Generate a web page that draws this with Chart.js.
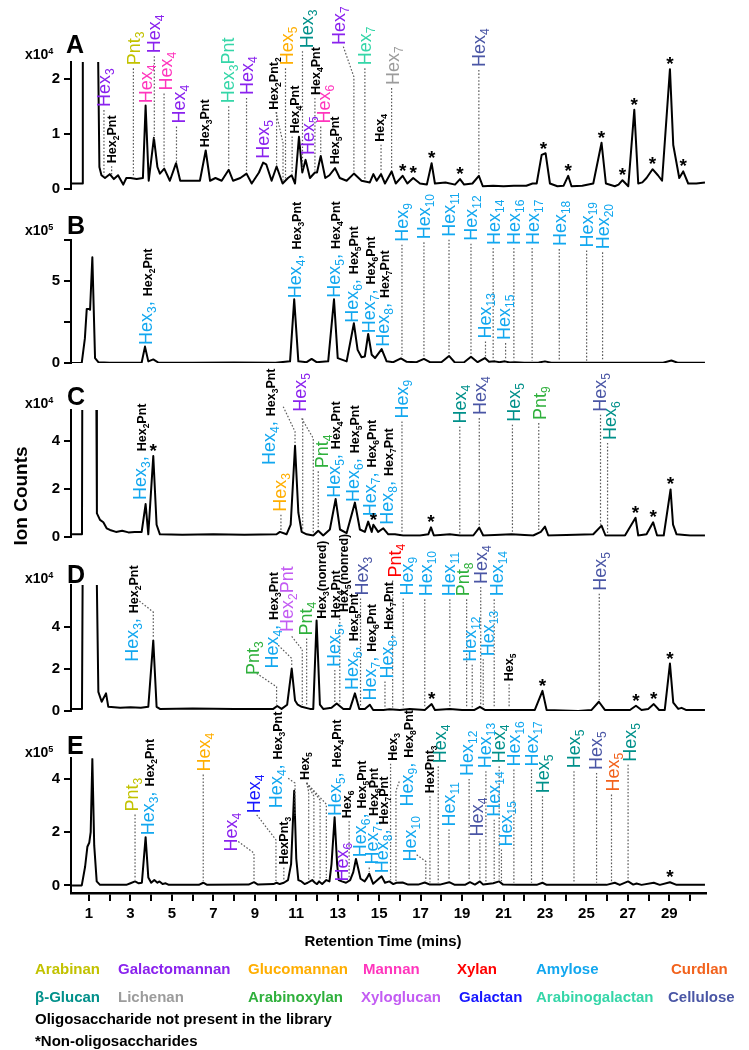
<!DOCTYPE html>
<html><head><meta charset="utf-8">
<script src="https://cdn.jsdelivr.net/npm/chart.js@4.4.1/dist/chart.umd.min.js"></script>
<style>
html,body{margin:0;padding:0;background:#fff;}
#wrap{position:relative;width:749px;height:1050px;overflow:hidden;background:#fff;font-family:"Liberation Sans",Arial,sans-serif;}
canvas{position:absolute;left:0;top:0;}
.t{position:absolute;line-height:1;font-weight:bold;white-space:nowrap;transform:translateY(-50%);color:#000;}
.t sup{font-size:0.65em;vertical-align:0.55em;line-height:0;}
</style></head>
<body><div id="wrap">
<canvas id="pA" width="749" height="1050"></canvas>
<canvas id="pB" width="749" height="1050"></canvas>
<canvas id="pC" width="749" height="1050"></canvas>
<canvas id="pD" width="749" height="1050"></canvas>
<canvas id="pE" width="749" height="1050"></canvas>
</div>
<script>
// ---------------- DATA ----------------
const X_TICKS = [1,2,3,4,5,6,7,8,9,10,11,12,13,14,15,16,17,18,19,20,21,22,23,24,25,26,27,28,29,30];
const X_TICK_LABELS = ['1','','3','','5','','7','','9','','11','','13','','15','','17','','19','','21','','23','','25','','27','','29',''];
const PANEL_LETTERS = ['A','B','C','D','E'];
const PANEL_EXPONENTS = ['4','5','4','4','5'];

// Panel A (x10^4)
const A_TIME = [0.16,0.69,0.70,1.36,1.50,1.60,1.77,2.00,2.20,2.40,2.65,2.80,3.00,3.30,3.60,3.73,3.88,4.13,4.30,4.42,4.63,4.90,5.20,5.40,5.80,6.35,6.63,6.84,7.10,7.40,7.74,7.95,8.30,8.60,8.85,9.20,9.40,9.55,9.81,10.05,10.34,10.60,10.78,10.94,11.13,11.29,11.45,11.66,11.90,12.00,12.18,12.40,12.60,12.87,13.10,13.43,13.78,14.15,14.55,14.72,14.88,15.09,15.28,15.60,15.80,16.13,16.36,16.64,16.97,17.30,17.53,17.69,18.20,18.66,18.90,19.10,19.50,19.81,20.00,20.50,21.00,21.50,22.10,22.40,22.60,22.84,23.03,23.24,23.60,23.90,24.12,24.28,24.80,25.33,25.73,25.94,26.37,26.55,26.74,27.02,27.31,27.50,27.70,27.90,28.19,28.45,28.65,29.03,29.19,29.48,29.67,29.91,30.30,30.72];
const A_ION  = [0.10,0.10,5,5,0.40,0.25,0.20,0.27,0.18,0.25,0.08,0.20,0.20,0.18,0.20,1.52,0.15,0.93,0.40,0.28,0.37,0.15,0.47,0.15,0.15,0.15,0.70,0.15,0.20,0.15,0.35,0.15,0.20,0.28,0.10,0.30,0.48,0.45,0.15,0.41,0.10,0.20,0.25,0.10,0.95,0.30,0.53,0.20,0.30,0.30,0.60,0.20,0.25,0.38,0.20,0.15,0.28,0.15,0.12,0.27,0.15,0.27,0.10,0.32,0.10,0.24,0.10,0.20,0.10,0.08,0.47,0.10,0.12,0.08,0.18,0.08,0.10,0.24,0.05,0.06,0.05,0.06,0.06,0.10,0.10,0.62,0.65,0.10,0.05,0.06,0.24,0.05,0.06,0.10,0.84,0.10,0.05,0.08,0.16,0.05,1.44,0.10,0.12,0.20,0.36,0.25,0.15,2.18,0.80,0.20,0.32,0.10,0.10,0.12];
const A_Y_TICKS = [0,1,2];
const A_Y_LABELS = ['0','1','2'];
const A_STARS = [16.13,16.64,17.53,18.9,22.93,24.12,25.73,26.74,27.31,28.19,29.03,29.67];
const A_PEAKS = [[1.72,'Hex{3}','gm'],[2.09,'Hex{2}Pnt','k'],[3.14,'Pnt{3}','ara'],[4.15,'Hex{4}','gm'],[3.73,'Hex{4}','man'],[4.62,'Hex{4}','man'],[5.22,'Hex{4}','gm'],[6.6,'Hex{3}Pnt','k'],[7.74,'Hex{3}Pnt','ag'],[8.6,'Hex{4}','gm'],[9.45,'Hex{5}','gm'],[10.36,'Hex{2}Pnt{2}','k'],[10.48,'Hex{5}','glc'],[10.8,'Hex{4}Pnt','k'],[11.3,'Hex{3}','bg'],[11.9,'Hex{4}Pnt','k'],[11.47,'Hex{5}','gm'],[12.18,'Hex{6}','man'],[12.87,'Hex{5}Pnt','k'],[13.78,'Hex{7}','gm'],[14.31,'Hex{7}','ag'],[15.09,'Hex{4}','k'],[15.6,'Hex{7}','lic'],[19.81,'Hex{4}','cel']];

// Panel B (x10^5)
const B_TIME = [0.16,0.65,0.80,0.89,1.01,1.05,1.16,1.29,1.45,2.00,3.00,3.54,3.70,3.86,4.10,4.34,6.00,8.00,10.00,10.70,10.90,11.10,11.50,11.74,11.98,12.54,12.82,13.00,13.43,13.78,13.96,14.15,14.31,14.47,14.64,14.80,15.12,15.36,15.68,16.05,16.33,16.80,17.16,17.45,18.00,18.37,18.65,19.10,19.43,19.75,20.10,20.30,20.58,20.80,21.07,21.30,21.55,22.00,22.70,23.00,23.30,25.00,28.70,29.10,29.40,30.72];
const B_ION  = [0,0.02,1.5,3.3,3.3,3.25,6.45,0.3,0.05,0.02,0.02,0.03,1.0,0.1,0.22,0.03,0.02,0.03,0.02,0.1,3.88,0.1,0.05,0.25,0.05,0.1,3.88,0.3,0.1,2.42,0.8,0.35,0.4,1.77,0.5,0.3,0.85,0.1,0.05,0.28,0.07,0.05,0.25,0.05,0.05,0.43,0.03,0.05,0.38,0.05,0.30,0.08,0.10,0.05,0.10,0.03,0.05,0.02,0.03,0.10,0.02,0.02,0.02,0.15,0.02,0.02];
const B_Y_TICKS = [0,2.5,5,7.5];
const B_Y_LABELS = ['0','','5',''];
const B_STARS = [];
const B_PEAKS = [[3.7,'Hex{3}, |Hex{2}Pnt','amy'],[10.9,'Hex{4}, |Hex{3}Pnt','amy'],[12.82,'Hex{5}, |Hex{4}Pnt','amy'],[13.78,'Hex{6}, |Hex{5}Pnt','amy'],[14.47,'Hex{7}, |Hex{6}Pnt','amy'],[15.12,'Hex{8}, |Hex{7}Pnt','amy'],[16.1,'Hex{9}','amy'],[17.16,'Hex{10}','amy'],[18.37,'Hex{11}','amy'],[19.43,'Hex{12}','amy'],[20.13,'Hex{13}','amy'],[20.5,'Hex{14}','amy'],[21.1,'Hex{15}','amy'],[21.5,'Hex{16}','amy'],[22.38,'Hex{17}','amy'],[23.69,'Hex{18}','amy'],[25.01,'Hex{19}','amy'],[25.78,'Hex{20}','amy']];

// Panel C (x10^4)
const C_TIME = [0.18,0.66,0.68,1.34,1.38,1.53,1.69,1.85,2.01,2.30,2.60,2.90,3.20,3.54,3.73,3.86,4.10,4.26,4.42,5.50,7.00,8.50,10.05,10.21,10.53,10.73,10.94,11.10,11.26,11.50,11.82,12.06,12.30,12.62,12.90,13.11,13.43,13.83,14.07,14.31,14.47,14.64,14.72,14.95,15.20,15.44,15.76,16.16,16.57,16.97,17.37,17.50,17.64,18.41,18.90,19.54,19.83,20.02,21.39,22.43,22.80,23.00,23.16,25.33,25.73,25.92,26.86,27.37,27.50,27.90,28.22,28.41,28.73,29.06,29.18,29.35,30.00,30.72];
const C_ION  = [0.1,0.1,8,8,0.97,0.7,0.6,0.35,0.28,0.2,0.25,0.18,0.2,0.2,1.36,0.1,3.36,0.5,0.1,0.08,0.1,0.08,0.1,0.2,0.1,0.5,3.79,1.0,0.2,0.1,0.05,0.25,0.05,0.3,1.57,0.3,0.15,1.42,0.3,0.2,0.63,0.2,0.5,0.2,0.35,0.1,0.1,0.05,0.05,0.05,0.1,0.39,0.05,0.1,0.05,0.05,0.38,0.05,0.1,0.05,0.2,0.42,0.05,0.1,0.46,0.05,0.05,0.79,0.05,0.1,0.6,0.05,0.05,1.97,0.5,0.1,0.05,0.05];
const C_Y_TICKS = [0,2,4];
const C_Y_LABELS = ['0','2','4'];
const C_STARS = [4.1,14.72,17.5,27.37,28.22,29.06];
const C_PEAKS = [[3.73,'Hex{3}, |Hex{2}Pnt','amy'],[10.26,'Hex{3}','glc'],[10.94,'Hex{4}, |Hex{3}Pnt','amy'],[11.82,'Hex{5}','gm'],[12.06,'Pnt{4}','axy'],[12.9,'Hex{5}, |Hex{4}Pnt','amy'],[13.83,'Hex{6}, |Hex{5}Pnt','amy'],[14.47,'Hex{7}, |Hex{6}Pnt','amy'],[15.2,'Hex{8}, |Hex{7}Pnt','amy'],[16.1,'Hex{9}','amy'],[18.89,'Hex{4}','bg'],[19.83,'Hex{4}','cel'],[21.43,'Hex{5}','bg'],[22.7,'Pnt{9}','axy'],[25.68,'Hex{5}','cel'],[26.02,'Hex{6}','bg']];

// Panel D (x10^4)
const D_TIME = [0.18,0.66,0.70,1.35,1.45,1.61,1.82,1.93,2.50,3.00,3.50,3.86,4.10,4.26,4.42,6.00,8.00,9.89,10.08,10.29,10.56,10.78,10.94,11.07,11.26,11.66,11.82,11.98,12.14,12.30,12.70,12.95,13.27,13.59,13.83,14.04,14.31,14.55,14.71,15.20,15.50,16.00,16.48,17.20,17.53,17.69,18.41,19.00,19.60,19.86,20.10,21.00,22.51,22.88,23.08,24.60,25.25,25.60,25.89,27.10,27.39,27.66,27.98,28.25,28.51,28.78,29.03,29.19,29.43,29.59,29.80,30.72];
const D_ION  = [0.1,0.1,8,8,0.91,0.44,0.84,0.2,0.15,0.18,0.15,0.2,3.36,0.2,0.1,0.12,0.1,0.1,0.24,0.1,0.3,2.02,0.5,0.3,0.2,0.1,0.1,4.31,0.3,0.1,0.15,0.36,0.1,0.1,0.84,0.1,0.1,0.3,0.05,0.05,0.08,0.05,0.1,0.05,0.33,0.05,0.1,0.05,0.05,0.2,0.05,0.05,0.05,0.96,0.05,0.0,0.05,0.44,0.05,0.05,0.25,0.05,0.1,0.33,0.05,0.05,2.26,0.4,0.1,0.15,0.05,0.05];
const D_Y_TICKS = [0,2,4];
const D_Y_LABELS = ['0','2','4'];
const D_STARS = [17.53,22.88,27.39,28.25,29.03];
const D_PEAKS = [[4.1,'Hex{3}, |Hex{2}Pnt','amy'],[10.05,'Pnt{3}','axy'],[10.78,'Hex{4}, |Hex{3}Pnt','amy'],[11.29,'Hex{2}Pnt','xg'],[11.5,'Pnt{4}','axy'],[11.98,'Hex{3}(nonred)','k'],[12.86,'Hex{5}, |Hex{4}Pnt','amy'],[13.1,'Hex{5}(nonred)','k'],[14.1,'Hex{3}','cel'],[13.83,'Hex{6}, |Hex{5}Pnt','amy'],[14.55,'Hex{7}, |Hex{6}Pnt','amy'],[15.28,'Hex{8}, |Hex{7}Pnt','amy'],[15.65,'Pnt{4}','xyl'],[16.16,'Hex{9}','amy'],[17.2,'Hex{10}','amy'],[18.41,'Hex{11}','amy'],[19.22,'Pnt{8}','axy'],[19.49,'Hex{12}','amy'],[19.9,'Hex{4}','cel'],[20.02,'Hex{13}','amy'],[20.55,'Hex{14}','amy'],[21.27,'Hex{5}','k'],[25.62,'Hex{5}','cel']];

// Panel E (x10^5)
const E_TIME = [0.18,0.65,0.81,0.92,1.01,1.08,1.16,1.25,1.37,1.53,2.80,3.00,3.22,3.40,3.55,3.73,3.86,4.00,4.15,4.30,4.40,4.55,4.70,4.85,6.30,6.51,6.70,8.70,8.96,9.15,9.90,10.05,10.20,10.40,10.60,10.75,10.90,11.00,11.10,11.25,11.40,11.55,11.77,11.90,12.00,12.10,12.25,12.45,12.60,12.70,12.85,12.97,13.05,13.20,13.40,13.60,13.75,13.88,14.00,14.10,14.30,14.43,14.52,14.71,15.12,15.28,15.49,15.68,15.84,16.13,16.40,16.88,17.20,17.45,17.93,18.38,18.65,19.14,19.38,19.62,19.86,20.02,20.50,20.79,20.98,21.63,22.60,22.88,23.08,25.97,26.37,26.61,27.01,27.26,27.42,27.66,28.25,28.54,29.03,29.35,30.72];
const E_ION  = [0,0,0.7,1.45,1.6,2.0,4.75,1.5,0.15,0.02,0.02,0.08,0.15,0.08,0.1,1.81,0.3,0.1,0.2,0.1,0.15,0.05,0.08,0.02,0.02,0.1,0.02,0.03,0.12,0.03,0.05,0.1,0.05,0.1,0.2,0.8,3.55,1.0,0.2,0.15,0.05,0.1,0.2,0.1,0.05,0.15,0.05,0.2,0.15,0.8,2.56,0.8,0.2,0.15,0.1,0.2,0.5,0.99,0.6,0.25,0.15,0.3,0.44,0.06,0.34,0.1,0.15,0.05,0.1,0.11,0.03,0.03,0.11,0.03,0.03,0.12,0.02,0.02,0.12,0.03,0.15,0.03,0.08,0.15,0.03,0.02,0.02,0.1,0.02,0.02,0.1,0.02,0.15,0.03,0.07,0.02,0.1,0.02,0.12,0.02,0.02];
const E_Y_TICKS = [0,2,4];
const E_Y_LABELS = ['0','2','4'];
const E_STARS = [29.03];
const E_PEAKS = [[3.22,'Pnt{3}','ara'],[3.73,'Hex{3}, |Hex{2}Pnt','amy'],[6.51,'Hex{4}','glc'],[8.96,'Hex{4}','gm'],[10.02,'Hex{4}','gal'],[10.4,'HexPnt{3}','k'],[10.94,'Hex{4}, |Hex{3}Pnt','amy'],[11.58,'Hex{5}','k'],[12.85,'Hex{5}, |Hex{4}Pnt','amy'],[13.55,'Hex{6}','k'],[13.19,'Hex{6}','gm'],[13.88,'Hex{6}, |Hex{5}Pnt','amy'],[14.52,'Hex{7}, |Hex{6}Pnt','amy'],[15.12,'Hex{8}, |Hex{7}Pnt','amy'],[15.55,'Hex{3}','k'],[15.81,'Hex{9}, |Hex{8}Pnt','amy'],[17.25,'Hex{10}','amy'],[17.45,'HexPnt{3}','k'],[17.85,'Hex{4}','bg'],[18.37,'Hex{11}','amy'],[19.34,'Hex{12}','amy'],[19.86,'Hex{4}','cel'],[20.15,'Hex{13}','amy'],[20.55,'Hex{14}','amy'],[20.79,'Hex{4}','bg'],[20.9,'Hex{15}','amy'],[21.5,'Hex{16}','amy'],[22.35,'Hex{17}','amy'],[22.88,'Hex{5}','bg'],[24.4,'Hex{5}','bg'],[25.49,'Hex{5}','cel'],[26.21,'Hex{5}','cur'],[27.01,'Hex{5}','bg']];

const LEGEND_ROW1 = [['Arabinan','ara'],['Galactomannan','gm'],['Glucomannan','glc'],['Mannan','man'],['Xylan','xyl'],['Amylose','amy'],['Curdlan','cur']];
const LEGEND_ROW2 = [['β-Glucan','bg'],['Lichenan','lic'],['Arabinoxylan','axy'],['Xyloglucan','xg'],['Galactan','gal'],['Arabinogalactan','ag'],['Cellulose','cel']];
const FOOTNOTES = ['Oligosaccharide not present in the library','*Non-oligosaccharides'];

// ---------------- LAYOUT (label anchor positions in data units: [minutes, value, leader paths]) ----------------
const A_LAYOUT = [[1.72,1.49],[2.09,0.47],[3.14,2.25],[4.12,2.47],[3.73,1.56],[4.68,1.79],[5.3,1.19],[6.58,0.76],[7.70,1.56],[8.6,1.71],[9.36,0.55],[9.89,1.44,[[[10.02,1.40],[10.36,0.84]],[[10.05,1.40]]]],[10.52,2.25],[10.92,1.01],[11.5,2.56],[11.9,1.71],[11.55,0.62],[12.3,1.19],[12.85,0.45],[13.03,2.62,[[[13.27,2.59],[13.78,2.04]]]],[14.31,2.25],[15.0,0.86],[15.63,1.89],[19.81,2.22]];
const B_LAYOUT = [[3.73,1.1],[10.92,3.95],[12.8,3.98],[13.68,2.45],[14.47,1.82],[15.18,0.99],[16.08,7.4],[17.16,7.54],[18.36,7.7],[19.43,7.46],[20.1,1.5],[20.54,7.2],[20.98,1.4],[21.5,7.2],[22.38,7.2],[23.69,7.13],[25.01,7.05],[25.78,6.93]];
const C_LAYOUT = [[3.46,1.53],[10.18,1.04],[9.65,2.99,[[[10.37,5.42],[10.94,4.38]]]],[11.14,5.21,[[[11.26,4.93],[11.82,4.1]],[[11.31,4.93]]]],[12.22,2.85],[12.78,1.62],[13.7,1.45],[14.55,0.85],[15.36,0.5],[16.08,4.93],[18.89,4.72],[19.86,5.07],[21.5,4.79],[22.75,4.86],[25.62,5.21],[26.13,4.03]];
const D_LAYOUT = [[3.06,2.34,[[[3.3,5.34],[4.1,4.71]]]],[8.9,1.71,[[[9.09,1.79],[10.05,1.15]]]],[9.81,2.02,[[[10.13,3.13],[10.78,2.5]]]],[10.54,3.76,[[[10.78,3.55],[11.29,2.92]]]],[11.47,3.6],[12.22,4.39],[12.78,2.1],[13.27,4.71],[14.15,5.5],[13.67,1.0],[14.55,0.5],[15.36,1.55],[15.76,6.36],[16.32,5.5],[17.25,5.46],[18.36,5.46],[19.03,5.46],[19.38,2.34],[19.91,6.05],[20.21,2.61],[20.69,5.46],[21.23,1.42],[25.65,5.73]];
const E_LAYOUT = [[3.06,2.77],[3.82,1.88],[6.51,4.27],[7.85,1.27,[[[8.2,1.65],[8.96,1.21]]]],[8.92,2.71,[[[9.09,2.65],[10.02,1.71]]]],[10.37,0.78],[10.02,2.9,[[[10.61,4.02],[10.94,3.84]]]],[11.37,3.96,[[[11.5,3.85],[11.6,3.5]],[[11.5,3.85],[11.85,3.35]],[[11.5,3.85],[12.15,3.2]],[[11.5,3.85],[12.45,3.05]]]],[12.87,2.6],[13.43,2.52],[13.19,0.15],[14.04,1.06],[14.65,0.78],[15.12,0.46],[15.65,4.68],[16.32,2.96,[[[15.97,3.9],[15.81,3.55]]]],[16.48,0.9,[[[16.81,1.15],[17.25,0.9]]]],[17.41,3.46],[17.93,4.58],[18.36,2.21],[19.22,4.11],[19.7,1.84],[20.1,4.4],[20.5,2.58],[20.74,4.58],[21.11,1.46],[21.5,4.46],[22.35,4.46],[22.88,3.46],[24.36,4.4],[25.46,4.33],[26.26,3.52],[27.06,4.64]];

const PANELS = [
  {id:'pA', T:A_TIME, V:A_ION, yt:A_Y_TICKS, yl:A_Y_LABELS, stars:A_STARS, peaks:A_PEAKS, lay:A_LAYOUT, min:0, max:2.31, top:62, bottom:189, showX:false},
  {id:'pB', T:B_TIME, V:B_ION, yt:B_Y_TICKS, yl:B_Y_LABELS, stars:B_STARS, peaks:B_PEAKS, lay:B_LAYOUT, min:0, max:7.5, top:240, bottom:363, showX:false},
  {id:'pC', T:C_TIME, V:C_ION, yt:C_Y_TICKS, yl:C_Y_LABELS, stars:C_STARS, peaks:C_PEAKS, lay:C_LAYOUT, min:0, max:5.28, top:410, bottom:536.7, showX:false},
  {id:'pD', T:D_TIME, V:D_ION, yt:D_Y_TICKS, yl:D_Y_LABELS, stars:D_STARS, peaks:D_PEAKS, lay:D_LAYOUT, min:0, max:6, top:585, bottom:711, showX:false},
  {id:'pE', T:E_TIME, V:E_ION, yt:E_Y_TICKS, yl:E_Y_LABELS, stars:E_STARS, peaks:E_PEAKS, lay:E_LAYOUT, min:-0.285, max:4.77, top:758.3, bottom:930, showX:true}
];

const COLORS = {ara:'#c2c200', gm:'#8a22ee', glc:'#ffae00', man:'#ff35bd', xyl:'#ff0000', amy:'#12a7ef', cur:'#f2621c', bg:'#00908a', lic:'#9c9c9c', axy:'#2fb03c', xg:'#c35cf3', gal:'#1616ff', ag:'#35d6a8', cel:'#4a56a5', k:'#000000'};
const FAMILY = '"Liberation Sans", Arial, sans-serif';
const X_MIN = 0.13, X_MAX = 30.77;
const F_BIG = {main:'18px ' + FAMILY, sub:'12px ' + FAMILY, dy:4};
const F_SMALL = {main:'bold 12.5px ' + FAMILY, sub:'bold 8.5px ' + FAMILY, dy:3};

function interp(T, V, t) {
  if (t <= T[0]) return V[0];
  for (let i = 1; i < T.length; i++) {
    if (t <= T[i]) { const f = (t - T[i-1]) / (T[i] - T[i-1]); return V[i-1] + f * (V[i] - V[i-1]); }
  }
  return V[V.length - 1];
}

function drawLabel(ctx, text, cat, px, py) {
  const parts = text.split('|');
  const runs = [];
  if (cat === 'k') runs.push({s: parts.join(''), big: false, color: '#000'});
  else { runs.push({s: parts[0], big: true, color: COLORS[cat]}); if (parts[1]) runs.push({s: parts[1], big: false, color: '#000'}); }
  const base = runs[0].big ? 6.4 : 4.6;
  ctx.save();
  ctx.translate(px, py);
  ctx.rotate(-Math.PI / 2);
  ctx.textAlign = 'left';
  ctx.textBaseline = 'alphabetic';
  let cx = 0;
  runs.forEach(r => {
    const f = r.big ? F_BIG : F_SMALL;
    ctx.fillStyle = r.color;
    const re = /\{([^}]*)\}|([^{]+)/g; let m;
    while ((m = re.exec(r.s))) {
      const sub = m[1] !== undefined;
      const str = sub ? m[1] : m[2];
      ctx.font = sub ? f.sub : f.main;
      ctx.fillText(str, cx, base + (sub ? f.dy : 0));
      cx += ctx.measureText(str).width;
    }
  });
  ctx.restore();
}

const notesPlugin = {
  id: 'peakNotes',
  afterDraw(chart, args, o) {
    const ctx = chart.ctx, xs = chart.scales.x, ys = chart.scales.y;
    const traceY = t => ys.getPixelForValue(Math.min(interp(o.T, o.V, t), ys.max));
    ctx.save();
    ctx.strokeStyle = '#5c5c5c';
    ctx.lineWidth = 1.2;
    ctx.setLineDash([1.6, 1.8]);
    o.peaks.forEach((a, i) => {
      const lay = o.lay[i];
      const paths = lay[2] || [[[a[0], lay[1]]]];
      paths.forEach(path => {
        ctx.beginPath();
        let lastY = 0;
        path.forEach((pt, k) => {
          const px = xs.getPixelForValue(pt[0]);
          let py = ys.getPixelForValue(pt[1]);
          if (k === 0 && !lay[2]) py += 3;
          if (k === 0) ctx.moveTo(px, py); else ctx.lineTo(px, py);
          lastY = py;
        });
        const last = path[path.length - 1];
        const ex = xs.getPixelForValue(last[0]);
        const ey = traceY(last[0]) - 2;
        if (ey - lastY > 3) ctx.lineTo(ex, ey);
        ctx.stroke();
      });
    });
    ctx.setLineDash([]);
    o.peaks.forEach((a, i) => {
      const lay = o.lay[i];
      drawLabel(ctx, a[1], a[2], xs.getPixelForValue(lay[0]), ys.getPixelForValue(lay[1]));
    });
    ctx.fillStyle = '#000';
    ctx.font = 'bold 19px ' + FAMILY;
    ctx.textAlign = 'center';
    ctx.textBaseline = 'alphabetic';
    o.stars.forEach(t => ctx.fillText('*', xs.getPixelForValue(t), traceY(t) + 1));
    ctx.restore();
  }
};

PANELS.forEach(p => {
  const n = Math.min(p.T.length, p.V.length);
  const pts = [];
  for (let i = 0; i < n; i++) pts.push({x: p.T[i], y: p.V[i]});
  new Chart(document.getElementById(p.id), {
    type: 'line',
    data: {datasets: [{data: pts, borderColor: '#000', borderWidth: 2, pointRadius: 0, tension: 0, fill: false, borderJoinStyle: 'round'}]},
    options: {
      responsive: false, animation: false, devicePixelRatio: 1,
      layout: {padding: {top: p.top, bottom: 1050 - p.bottom, left: 0, right: 43}},
      plugins: {legend: {display: false}, tooltip: {enabled: false},
        peakNotes: {T: p.T, V: p.V, peaks: p.peaks, lay: p.lay, stars: p.stars}},
      scales: {
        x: {type: 'linear', min: X_MIN, max: X_MAX, display: p.showX,
          afterBuildTicks: s => { s.ticks = X_TICKS.map(v => ({value: v})); },
          afterFit: s => { s.height = p.showX ? 37 : 0; },
          ticks: {autoSkip: false, maxRotation: 0, minRotation: 0, color: '#000', padding: 4,
            font: {family: FAMILY, size: 15, weight: 'bold'}, callback: (v, i) => X_TICK_LABELS[i]},
          grid: {drawOnChartArea: false, drawTicks: true, tickLength: 8, color: '#000', tickColor: '#000', lineWidth: 2},
          border: {display: true, color: '#000', width: 2.5}},
        y: {type: 'linear', min: p.min, max: p.max,
          afterBuildTicks: s => { s.ticks = p.yt.map(v => ({value: v})); },
          afterFit: s => { s.width = 71; },
          ticks: {color: '#000', padding: 4, font: {family: FAMILY, size: 15, weight: 'bold'}, callback: (v, i) => p.yl[i]},
          grid: {drawOnChartArea: false, drawTicks: true, tickLength: 7, color: '#000', tickColor: '#000', lineWidth: 2},
          border: {display: true, color: '#000', width: 2}}
      }
    },
    plugins: [notesPlugin]
  });
});

// ---------------- TEXT ----------------
const wrap = document.getElementById('wrap');
function addText(html, left, top, size, color, extra) {
  const d = document.createElement('div');
  d.className = 't';
  d.innerHTML = html;
  d.style.left = left + 'px';
  d.style.top = top + 'px';
  d.style.fontSize = size + 'px';
  if (color) d.style.color = color;
  if (extra) Object.assign(d.style, extra);
  wrap.appendChild(d);
  return d;
}
const LETTER_POS = [[66,43.5],[67,224.5],[67,395.5],[67,573.5],[67,745]];
const EXP_POS = [[25,54],[25,230],[25,403],[25,578],[25,752]];
PANEL_LETTERS.forEach((L, i) => addText(L, LETTER_POS[i][0], LETTER_POS[i][1], 25));
PANEL_EXPONENTS.forEach((e, i) => addText('x10<sup>' + e + '</sup>', EXP_POS[i][0], EXP_POS[i][1], 14));
addText('Ion Counts', 20, 496, 19, null, {transform: 'translate(-50%,-50%) rotate(-90deg)'});
addText('Retention Time (mins)', 383, 940, 15, null, {transform: 'translate(-50%,-50%)'});
const ROW1_X = [35,118,248,363,457,536,671];
const ROW2_X = [35,118,248,361,459,536,668];
LEGEND_ROW1.forEach((it, i) => addText(it[0], ROW1_X[i], 968, 15, COLORS[it[1]]));
LEGEND_ROW2.forEach((it, i) => addText(it[0], ROW2_X[i], 996, 15, COLORS[it[1]]));
addText(FOOTNOTES[0], 35, 1018, 15);
addText(FOOTNOTES[1], 35, 1040, 15);
</script>
</body></html>
